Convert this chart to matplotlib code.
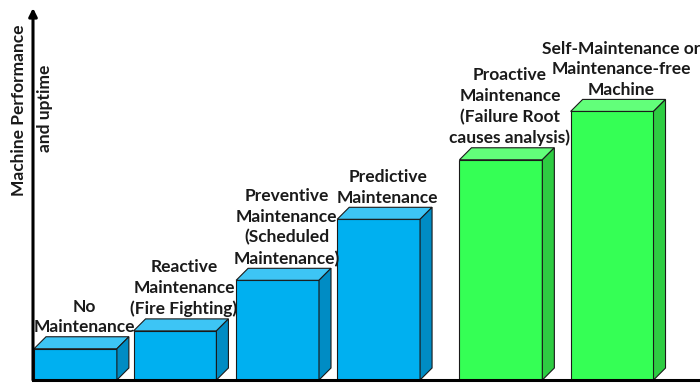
import matplotlib.pyplot as plt
from matplotlib.patches import Polygon

plt.rcParams['font.family'] = ['Lato', 'DejaVu Sans']

labels = ['No\nMaintenance',
          'Reactive\nMaintenance\n(Fire Fighting)',
          'Preventive\nMaintenance\n(Scheduled\nMaintenance)',
          'Predictive\nMaintenance',
          'Proactive\nMaintenance\n(Failure Root\ncauses analysis)',
          'Self-Maintenance or\nMaintenance-free\nMachine']
performance = [8.4, 13.2, 26.8, 43.2, 59.2, 72.2]
kind = ['reactive', 'reactive', 'reactive', 'reactive', 'proactive', 'proactive']

# layout (category slots, with wider gaps for the last two)
xpos = [0, 0.985, 2.0, 3.0, 4.21, 5.31]
width = 0.82

colors = {'reactive': ('#00B0F0', '#3DC5F5', '#008CC4'),
          'proactive': ('#35FF55', '#62FF7A', '#2ECC42')}

fig = plt.figure(figsize=(7, 3.83), dpi=100)
W, H = 700, 383
left, right, bottom, top = 33, 700, 380, 8
ax = fig.add_axes([left / W, (H - bottom) / H, (right - left) / W, (bottom - top) / H])
ax.set_xlim(-0.42, 6.18)
ax.set_ylim(0, 100)

# depth of the fake 3D in pixels -> data units
depth_px = 12
dx = depth_px * (6.18 + 0.42) / (right - left)
dy = depth_px * 100 / (bottom - top)

for x, v, k, lab in zip(xpos, performance, kind, labels):
    front, topc, side = colors[k]
    x0, x1 = x - width / 2, x + width / 2
    ax.bar(x, v, width=width, color=front, edgecolor='#1a1a1a', linewidth=0.8, zorder=2)
    ax.add_patch(Polygon([(x0, v), (x1, v), (x1 + dx, v + dy), (x0 + dx, v + dy)],
                         closed=True, facecolor=topc, edgecolor='#1a1a1a', linewidth=0.8, zorder=2))
    ax.add_patch(Polygon([(x1, 0), (x1 + dx, dy), (x1 + dx, v + dy), (x1, v)],
                         closed=True, facecolor=side, edgecolor='#1a1a1a', linewidth=0.8, zorder=2))
    ax.text(x + dx * 0.75, v + dy + 0.4, lab, ha='center', va='bottom', fontsize=12.5,
            fontweight='bold', linespacing=1.36, color='#1a1a1a', zorder=3)

for s in ['top', 'right']:
    ax.spines[s].set_visible(False)
ax.spines['left'].set_visible(False)
ax.spines['bottom'].set_linewidth(2.2)
ax.set_xticks([])
ax.set_yticks([])
ax.patch.set_alpha(0)

# vertical axis with arrow head
ax.annotate('', xy=(-0.42, 100), xytext=(-0.42, 0),
            arrowprops=dict(arrowstyle='-|>', color='black', lw=2.2, mutation_scale=12,
                            shrinkA=0, shrinkB=0),
            annotation_clip=False, zorder=4)

fig.text(19 / W, 1 - 110 / H, 'Machine Performance', rotation=90, ha='center', va='center',
         fontsize=12.5, fontweight='bold', color='#1a1a1a')
fig.text(45 / W, 1 - 108 / H, 'and uptime', rotation=90, ha='center', va='center',
         fontsize=12.5, fontweight='bold', color='#1a1a1a')

fig.savefig('out.png', dpi=100)
